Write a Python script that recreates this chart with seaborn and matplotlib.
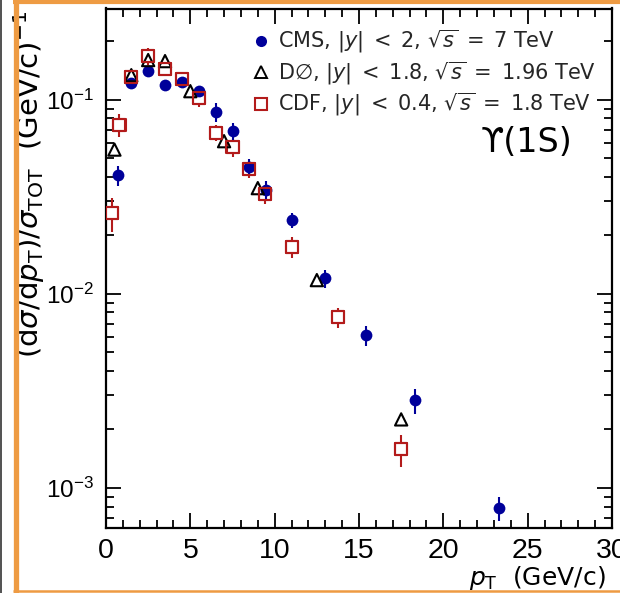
import numpy as np
import matplotlib
matplotlib.use('Agg')
import matplotlib.pyplot as plt
import seaborn as sns
from matplotlib.lines import Line2D
from matplotlib.ticker import LogLocator, FuncFormatter, MultipleLocator, NullFormatter

# ---------------- data ----------------
cms_pt = [0.7, 1.5, 2.5, 3.5, 4.5, 5.5, 6.5, 7.5, 8.5, 9.5, 11.0, 13.0, 15.4, 18.3, 23.3]
cms_val = [0.0408, 0.1216, 0.140, 0.1188, 0.123, 0.1106, 0.0862, 0.0688, 0.0449, 0.0342,
           0.0239, 0.0120, 0.00611, 0.00282, 0.000783]
cms_err = [0.0049, 0.0073, 0.0084, 0.0071, 0.0074, 0.0066, 0.0095, 0.0069, 0.0045, 0.0041,
           0.0022, 0.0013, 0.00073, 0.00042, 0.00011]

d0_pt = [0.5, 1.5, 2.5, 3.5, 5.0, 7.0, 9.0, 12.5, 17.5]
d0_val = [0.0553, 0.1337, 0.160, 0.158, 0.1106, 0.0611, 0.0350, 0.01175, 0.00225]

cdf_pt = [0.35, 0.8, 1.5, 2.5, 3.5, 4.5, 5.5, 6.5, 7.5, 8.5, 9.4, 11.0, 13.75, 17.5]
cdf_val = [0.0260, 0.0739, 0.1306, 0.1676, 0.1436, 0.1276, 0.1018, 0.0676, 0.0569, 0.0438,
           0.0326, 0.0174, 0.00757, 0.00158]
cdf_err = [0.0053, 0.0100, 0.0085, 0.0160, 0.0115, 0.0100, 0.0100, 0.0065, 0.0060, 0.0043,
           0.0036, 0.0021, 0.0009, 0.0003]

labels = [r'CMS, $|y|\;<\;2$, $\sqrt{s}\;=\;7$ TeV',
          r'D$\emptyset$, $|y|\;<\;1.8$, $\sqrt{s}\;=\;1.96$ TeV',
          r'CDF, $|y|\;<\;0.4$, $\sqrt{s}\;=\;1.8$ TeV']
xlabel = r'$p_{\mathrm{T}}$  (GeV/c)'
ylabel = r'$(\mathrm{d}\sigma/\mathrm{d}p_{\mathrm{T}})/\sigma_{\mathrm{TOT}}$  $(\mathrm{GeV/c})^{-1}$'
state_label = 'ϒ(1S)'

# ---------------- style ----------------
sns.set_theme(style='ticks')
plt.rcParams['font.family'] = ['DejaVu Sans']
plt.rcParams['mathtext.fontset'] = 'dejavusans'

blue = '#00009A'
red = '#B31B1B'
black = '#000000'

fig = plt.figure(figsize=(6.2, 5.93), dpi=100)
fig.patch.set_facecolor('white')
ax = fig.add_axes([106 / 620, 65 / 593, 506 / 620, 519.5 / 593])
ax.set_yscale('log')

# CDF error bars + white-filled squares (hide bar inside marker)
ax.errorbar(cdf_pt, cdf_val, yerr=cdf_err, fmt='none', ecolor=red, elinewidth=1.5,
            capsize=0, zorder=2)
sns.scatterplot(x=cdf_pt, y=cdf_val, ax=ax, marker='s', s=75, color=red,
                facecolor='white', edgecolor=red, linewidth=1.5, zorder=3, legend=False)

# CMS
ax.errorbar(cms_pt, cms_val, yerr=cms_err, fmt='none', ecolor=blue, elinewidth=1.5,
            capsize=0, zorder=4)
sns.scatterplot(x=cms_pt, y=cms_val, ax=ax, marker='o', s=72, color=blue,
                facecolor=blue, edgecolor=blue, linewidth=0, zorder=5, legend=False)

# D0
sns.scatterplot(x=d0_pt, y=d0_val, ax=ax, marker='^', s=78, color=black,
                facecolor='none', edgecolor=black, linewidth=1.5, zorder=6, legend=False)

# CDF outlines on top
sns.scatterplot(x=cdf_pt, y=cdf_val, ax=ax, marker='s', s=75, color=red,
                facecolor='none', edgecolor=red, linewidth=1.5, zorder=7, legend=False)

ax.set_xlim(0, 30)
ax.set_ylim(6.2e-4, 0.295)

ax.xaxis.set_major_locator(MultipleLocator(5))
ax.xaxis.set_minor_locator(MultipleLocator(1))
ax.yaxis.set_major_locator(LogLocator(base=10, numticks=10))
ax.yaxis.set_minor_locator(LogLocator(base=10, subs=np.arange(2, 10), numticks=20))
ax.yaxis.set_minor_formatter(NullFormatter())
ax.yaxis.set_major_formatter(FuncFormatter(lambda v, p: r'$\mathdefault{10^{%d}}$' % int(round(np.log10(v)))))

ax.tick_params(which='both', direction='in', top=True, right=True, width=1.3,
               color='black', labelcolor='black')
ax.tick_params(which='major', length=11, pad=7)
ax.tick_params(which='minor', length=5.5)
ax.tick_params(axis='x', which='major', labelsize=20.5, pad=7)
ax.tick_params(axis='y', which='major', labelsize=17.5, pad=9)
for lab in ax.get_xticklabels() + ax.get_yticklabels():
    lab.set_fontfamily('Liberation Sans')
for sp in ax.spines.values():
    sp.set_linewidth(1.6)
    sp.set_color('black')

ax.set_xlabel(xlabel, fontsize=18, loc='right', color='black')
ax.xaxis.set_label_coords(0.988, -0.069)
ax.set_ylabel(ylabel, fontsize=21, loc='top', color='black')
ax.yaxis.set_label_coords(-0.116, 0.996)

ax.text(0.921, 0.743, state_label, transform=ax.transAxes, fontsize=24,
        ha='right', va='center', color='black')

handles = [
    Line2D([], [], ls='none', marker='o', markersize=8, color=blue, markeredgewidth=0),
    Line2D([], [], ls='none', marker='^', markersize=8.5, markerfacecolor='none',
           markeredgecolor=black, markeredgewidth=1.4),
    Line2D([], [], ls='none', marker='s', markersize=9, markerfacecolor='none',
           markeredgecolor=red, markeredgewidth=1.5),
]
ax.legend(handles, labels, loc='upper left', bbox_to_anchor=((253 - 106) / 506, 0.962),
          frameon=False, fontsize=15, handlelength=0.8, handletextpad=0.4,
          labelspacing=0.2, borderpad=0, borderaxespad=0)

# screenshot frame (orange border and dark edge)
fig.add_artist(Line2D([15.5 / 620, 15.5 / 620], [0, 1], transform=fig.transFigure,
                      color='#EE9B43', lw=3.8, solid_capstyle='butt'))
fig.add_artist(Line2D([13 / 620, 1], [1 - 2 / 593, 1 - 2 / 593], transform=fig.transFigure,
                      color='#EE9B43', lw=3.0, solid_capstyle='butt'))
fig.add_artist(Line2D([13 / 620, 1], [2 / 593, 2 / 593], transform=fig.transFigure,
                      color='#EE9B43', lw=1.8, solid_capstyle='butt'))
fig.add_artist(Line2D([1 / 620, 1 / 620], [0, 1], transform=fig.transFigure,
                      color='#333333', lw=1.2, solid_capstyle='butt'))

fig.savefig('out.png', dpi=100)
